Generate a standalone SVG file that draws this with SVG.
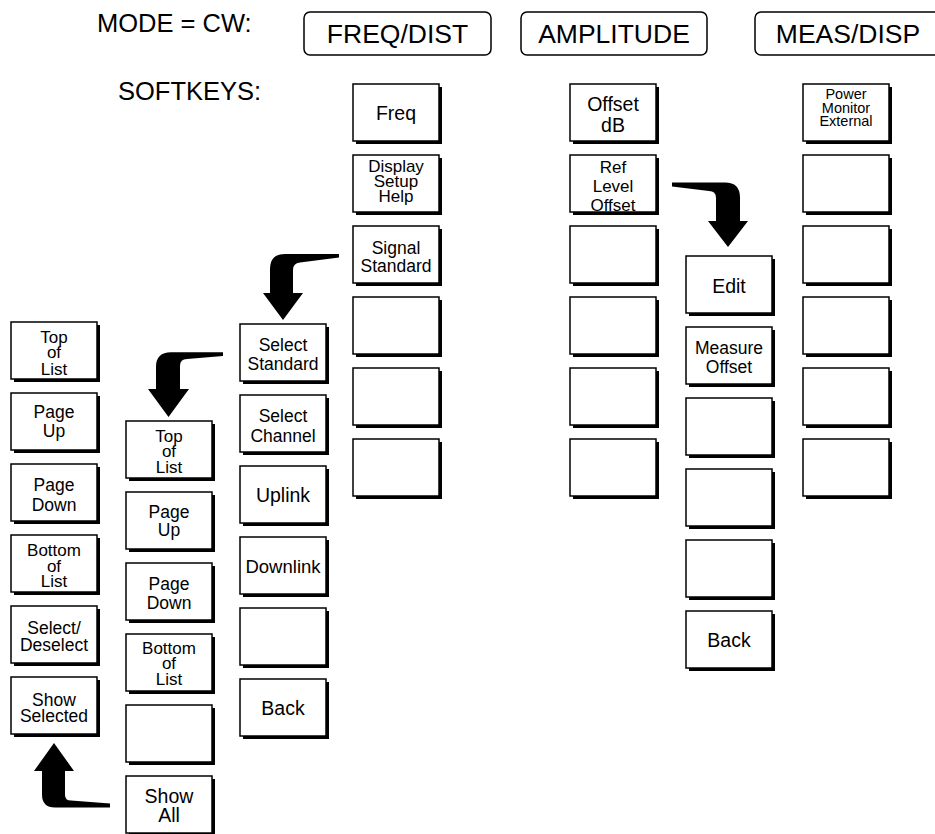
<svg xmlns="http://www.w3.org/2000/svg" width="935" height="834" viewBox="0 0 935 834">
<style>
text{font-family:"Liberation Sans",Arial,sans-serif;fill:#000}
.lbl{font-size:25.5px}
.hdr rect{fill:#fff;stroke:#000;stroke-width:1.5}
.hdr text{font-size:26.5px;text-anchor:middle}
.sh{fill:#000}
.face{fill:#fff;stroke:#000;stroke-width:1.5}
.k text{text-anchor:middle;font-size:17.5px}
.k .b{font-size:19.5px}
.k .s{font-size:17px}
.k .xs{font-size:14.5px}
.arrow{fill:#000}
</style>
<defs>
<g id="key"><rect class="sh" x="3" y="3" width="86" height="57"/><rect class="face" x="0" y="0" width="86" height="57"/></g>
</defs>
<rect width="935" height="834" fill="#fff"/>
<text class="lbl" x="97" y="32">MODE = CW:</text>
<text class="lbl" x="118" y="100">SOFTKEYS:</text>
<g id="hdr-freq" class="hdr"><rect x="304" y="12" width="187" height="43" rx="6"/><text x="397.5" y="43">FREQ/DIST</text></g>
<g id="hdr-amp" class="hdr"><rect x="521" y="12" width="186" height="43" rx="6"/><text x="614" y="43">AMPLITUDE</text></g>
<g id="hdr-meas" class="hdr"><rect x="755" y="12" width="186" height="43" rx="6"/><text x="848" y="43">MEAS/DISP</text></g>

<!-- FREQ/DIST column -->
<g id="k-freq" class="k"><use href="#key" x="353" y="84"/><text class="b" x="396" y="120">Freq</text></g>
<g id="k-display" class="k"><use href="#key" x="353" y="155"/><text class="s" x="396" y="172">Display</text><text class="s" x="396" y="187">Setup</text><text class="s" x="396" y="202">Help</text></g>
<g id="k-signal" class="k"><use href="#key" x="353" y="226"/><text x="396" y="254">Signal</text><text x="396" y="272">Standard</text></g>
<g id="k-f4" class="k"><use href="#key" x="353" y="297"/></g>
<g id="k-f5" class="k"><use href="#key" x="353" y="368"/></g>
<g id="k-f6" class="k"><use href="#key" x="353" y="439"/></g>

<!-- AMPLITUDE column -->
<g id="k-offsetdb" class="k"><use href="#key" x="570" y="84"/><text class="b" x="613" y="111">Offset</text><text class="b" x="613" y="132">dB</text></g>
<g id="k-reflevel" class="k"><use href="#key" x="570" y="155"/><text class="s" x="613" y="173">Ref</text><text class="s" x="613" y="192">Level</text><text class="s" x="613" y="211">Offset</text></g>
<g id="k-a3" class="k"><use href="#key" x="570" y="226"/></g>
<g id="k-a4" class="k"><use href="#key" x="570" y="297"/></g>
<g id="k-a5" class="k"><use href="#key" x="570" y="368"/></g>
<g id="k-a6" class="k"><use href="#key" x="570" y="439"/></g>

<!-- MEAS/DISP column -->
<g id="k-power" class="k"><use href="#key" x="803" y="84"/><text class="xs" x="846" y="99">Power</text><text class="xs" x="846" y="112.5">Monitor</text><text class="xs" x="846" y="126">External</text></g>
<g id="k-m2" class="k"><use href="#key" x="803" y="155"/></g>
<g id="k-m3" class="k"><use href="#key" x="803" y="226"/></g>
<g id="k-m4" class="k"><use href="#key" x="803" y="297"/></g>
<g id="k-m5" class="k"><use href="#key" x="803" y="368"/></g>
<g id="k-m6" class="k"><use href="#key" x="803" y="439"/></g>

<!-- Ref Level Offset submenu -->
<g id="k-edit" class="k"><use href="#key" x="686" y="256"/><text class="b" x="729" y="293">Edit</text></g>
<g id="k-measoff" class="k"><use href="#key" x="686" y="327"/><text x="729" y="354">Measure</text><text x="729" y="373">Offset</text></g>
<g id="k-r3" class="k"><use href="#key" x="686" y="398"/></g>
<g id="k-r4" class="k"><use href="#key" x="686" y="469"/></g>
<g id="k-r5" class="k"><use href="#key" x="686" y="540"/></g>
<g id="k-rback" class="k"><use href="#key" x="686" y="611"/><text class="b" x="729" y="647">Back</text></g>

<!-- Signal Standard submenu -->
<g id="k-selstd" class="k"><use href="#key" x="240" y="324"/><text x="283" y="351">Select</text><text x="283" y="370">Standard</text></g>
<g id="k-selch" class="k"><use href="#key" x="240" y="395"/><text x="283" y="422">Select</text><text x="283" y="442">Channel</text></g>
<g id="k-uplink" class="k"><use href="#key" x="240" y="466"/><text class="b" x="283" y="502">Uplink</text></g>
<g id="k-downlink" class="k"><use href="#key" x="240" y="537"/><text x="283" y="573" style="font-size:18.5px">Downlink</text></g>
<g id="k-s5" class="k"><use href="#key" x="240" y="608"/></g>
<g id="k-sback" class="k"><use href="#key" x="240" y="679"/><text class="b" x="283" y="715">Back</text></g>

<!-- Select Standard submenu -->
<g id="k2-top" class="k"><use href="#key" x="126" y="421"/><text class="s" x="169" y="442">Top</text><text class="s" x="169" y="457">of</text><text class="s" x="169" y="473">List</text></g>
<g id="k2-pgup" class="k"><use href="#key" x="126" y="492"/><text x="169" y="518">Page</text><text x="169" y="536">Up</text></g>
<g id="k2-pgdn" class="k"><use href="#key" x="126" y="563"/><text x="169" y="590">Page</text><text x="169" y="609">Down</text></g>
<g id="k2-bottom" class="k"><use href="#key" x="126" y="634"/><text class="s" x="169" y="654">Bottom</text><text class="s" x="169" y="669">of</text><text class="s" x="169" y="685">List</text></g>
<g id="k2-e5" class="k"><use href="#key" x="126" y="705"/></g>
<g id="k2-showall" class="k"><use href="#key" x="126" y="776"/><text class="b" x="169" y="803">Show</text><text class="b" x="169" y="822">All</text></g>

<!-- Show Selected submenu -->
<g id="k1-top" class="k"><use href="#key" x="11" y="322"/><text class="s" x="54" y="343">Top</text><text class="s" x="54" y="358">of</text><text class="s" x="54" y="375">List</text></g>
<g id="k1-pgup" class="k"><use href="#key" x="11" y="393"/><text x="54" y="418">Page</text><text x="54" y="437">Up</text></g>
<g id="k1-pgdn" class="k"><use href="#key" x="11" y="464"/><text x="54" y="491">Page</text><text x="54" y="511">Down</text></g>
<g id="k1-bottom" class="k"><use href="#key" x="11" y="535"/><text class="s" x="54" y="556">Bottom</text><text class="s" x="54" y="572">of</text><text class="s" x="54" y="587">List</text></g>
<g id="k1-select" class="k"><use href="#key" x="11" y="606"/><text x="54" y="634">Select/</text><text x="54" y="651">Deselect</text></g>
<g id="k1-showsel" class="k"><use href="#key" x="11" y="677"/><text x="54" y="706">Show</text><text x="54" y="722">Selected</text></g>

<g id="connectors">
<path class="arrow" d="M339 254 L285 254 Q270 254 270 269 L270 293 L263 293 L283 320 L303 293 L293 293 L293 270 Q293 263 300 262.5 L339 257.5 Z"/>
<path class="arrow" d="M672 182.5 L725 182.5 Q740 182.5 740 197.5 L740 221 L748 221 L728 247 L708 221 L716 221 L716 198 Q716 191 709 191 L672 186.5 Z"/>
<path class="arrow" d="M223 352.3 L171 352.3 Q156 352.3 156 367 L156 389 L148 389 L168.5 417 L189 389 L180 389 L180 366 Q180 359 187 359 L223 356 Z"/>
<path class="arrow" d="M54 743 L74 771 L65 771 L65 795 Q65 800.5 71 800.5 L110 803.5 L110 807.5 L55 807.5 Q42 807.5 42 794.5 L42 771 L34 771 Z"/>
</g>
</svg>
